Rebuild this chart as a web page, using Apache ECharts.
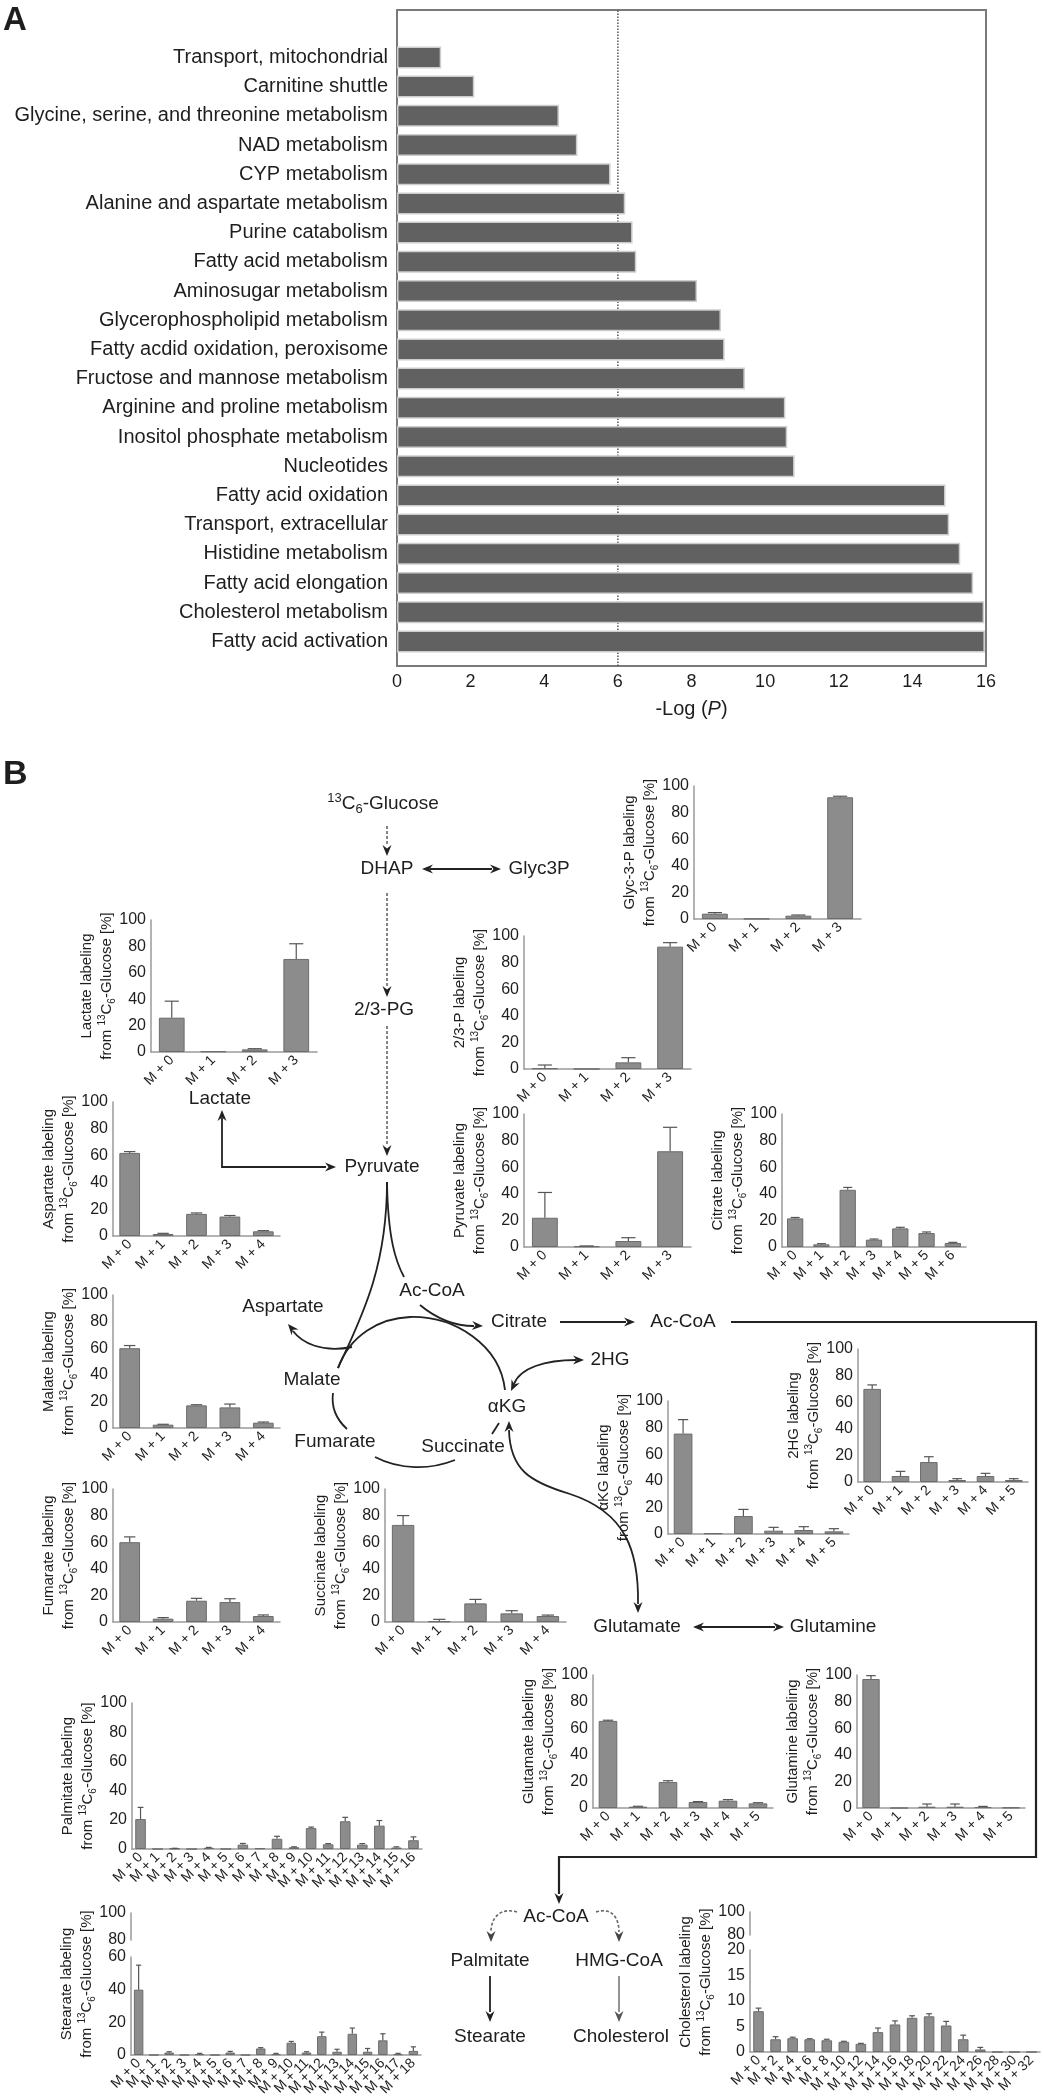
<!DOCTYPE html>
<html>
<head>
<meta charset="utf-8">
<title>Pathway enrichment and 13C6-glucose labeling</title>
<script src="https://cdn.jsdelivr.net/npm/echarts@6/dist/echarts.min.js"></script>
<style>
  html, body { margin: 0; padding: 0; background: #fff; }
  #chart { width: 1044px; height: 2100px; }
</style>
</head>
<body>
<div id="chart"></div>
<script>
// ---- Panel A: enriched pathways, -Log(P) ----
const pathwayNames = [
  'Transport, mitochondrial', 'Carnitine shuttle', 'Glycine, serine, and threonine metabolism',
  'NAD metabolism', 'CYP metabolism', 'Alanine and aspartate metabolism', 'Purine catabolism',
  'Fatty acid metabolism', 'Aminosugar metabolism', 'Glycerophospholipid metabolism',
  'Fatty acdid oxidation, peroxisome', 'Fructose and mannose metabolism',
  'Arginine and proline metabolism', 'Inositol phosphate metabolism', 'Nucleotides',
  'Fatty acid oxidation', 'Transport, extracellular', 'Histidine metabolism',
  'Fatty acid elongation', 'Cholesterol metabolism', 'Fatty acid activation'
]
const pathwayLogP = [1.2, 2.1, 4.4, 4.9, 5.8, 6.2, 6.4, 6.5, 8.15, 8.8, 8.9, 9.45,
  10.55, 10.6, 10.8, 14.9, 15.0, 15.3, 15.65, 15.95, 15.97]
const pThreshold = 6

// ---- Panel B: isotopologue tick labels ----
const iso4 = ['M + 0', 'M + 1', 'M + 2', 'M + 3']
const iso5 = ['M + 0', 'M + 1', 'M + 2', 'M + 3', 'M + 4']
const iso6 = ['M + 0', 'M + 1', 'M + 2', 'M + 3', 'M + 4', 'M + 5']
const iso7 = ['M + 0', 'M + 1', 'M + 2', 'M + 3', 'M + 4', 'M + 5', 'M + 6']
const iso17 = ['M + 0', 'M + 1', 'M + 2', 'M + 3', 'M + 4', 'M + 5', 'M + 6', 'M + 7', 'M + 8',
  'M + 9', 'M + 10', 'M + 11', 'M + 12', 'M + 13', 'M + 14', 'M + 15', 'M + 16']
const iso19 = ['M + 0', 'M + 1', 'M + 2', 'M + 3', 'M + 4', 'M + 5', 'M + 6', 'M + 7', 'M + 8',
  'M + 9', 'M + 10', 'M + 11', 'M + 12', 'M + 13', 'M + 14', 'M + 15', 'M + 16', 'M + 17', 'M + 18']
const isoEven = ['M + 0', 'M + 2', 'M + 4', 'M + 6', 'M + 8', 'M + 10', 'M + 12', 'M + 14', 'M + 16',
  'M + 18', 'M + 20', 'M + 22', 'M + 24', 'M + 26', 'M + 28', 'M + 30', 'M + 32']

// labeling from 13C6-glucose [%], mean and SD (upper whisker)
const glyc3pMean = [4, 0.2, 2.5, 91.5]
const glyc3pSd = [0.8, 0, 0.5, 0.8]
const pg23Mean = [0.5, 0, 5, 92]
const pg23Sd = [2.5, 0, 3.5, 3]
const pyruvateMean = [22, 0.5, 4.5, 72]
const pyruvateSd = [19, 0.3, 2.5, 18]
const lactateMean = [26, 0.5, 2, 70.5]
const lactateSd = [12.5, 0, 0.5, 11.5]
const citrateMean = [21.5, 2, 43, 5.5, 14, 10.5, 3]
const citrateSd = [0.7, 0.5, 1.8, 0.5, 0.8, 0.8, 0.5]
const aspartateMean = [62, 1.5, 16.5, 14.5, 3.5]
const aspartateSd = [1, 0.5, 0.7, 0.8, 0.5]
const malateMean = [60, 2.5, 17, 15.5, 4]
const malateSd = [2, 0.3, 0.5, 2.5, 0.5]
const fumarateMean = [60, 2.5, 16, 15, 4.5]
const fumarateSd = [4, 0.8, 1.8, 2.5, 0.8]
const succinateMean = [73, 0.5, 14, 6.5, 4.5]
const succinateSd = [7, 1.5, 3, 2, 0.7]
const akgMean = [75.5, 0.5, 13.5, 2.5, 3, 2]
const akgSd = [10.5, 0, 5, 2.5, 2.5, 2]
const hg2Mean = [70, 4.5, 15, 1.5, 4.5, 1.5]
const hg2Sd = [3, 3.5, 4, 1, 2, 1]
const glutamateMean = [65.5, 1, 19.5, 4.5, 5.5, 3.5]
const glutamateSd = [0.5, 0.3, 1, 0.3, 0.8, 0.5]
const glutamineMean = [97, 0, 1, 1, 0.7, 0.3]
const glutamineSd = [2.5, 0, 2, 2, 0.5, 0]
const palmitateMean = [20.5, 0, 0.3, 0, 0.8, 0, 3, 0.5, 7, 1.2, 14.3, 3.2, 19, 3, 16, 1, 6]
const palmitateSd = [8, 0, 0.2, 0, 0.3, 0, 0.8, 0, 1.7, 0.3, 0.7, 0.5, 2.7, 0.7, 3.5, 0.5, 2.3]
const stearateMean = [40, 0, 1.5, 0, 0.5, 0, 1.5, 0, 4, 0.5, 7.5, 1.5, 11.5, 2, 13, 2, 9, 0.5, 2.5]
const stearateSd = [15, 0, 0.5, 0, 0.5, 0, 0.7, 0, 0.5, 0.5, 0.8, 0.5, 2.5, 1.5, 3.5, 2, 4, 0.5, 2.5]
const cholesterolMean = [8, 2.5, 2.7, 2.5, 2.3, 2.0, 1.6, 3.9, 5.4, 6.7, 7.0, 5.2, 2.5, 0.5, 0, 0, 0]
const cholesterolSd = [0.6, 0.5, 0.2, 0.1, 0.2, 0.1, 0.1, 0.8, 0.7, 0.4, 0.5, 0.8, 0.8, 0.4, 0, 0, 0]

const FONT = '"Liberation Sans", Arial, Helvetica, sans-serif'
const INK = '#1e1e1e'
const AXIS = '#9a9a9a'

const grids = []
const xAxes = []
const yAxes = []
const series = []
const graphics = []

// upper whisker only, like the original plots
const errorBar = (params, api) => {
  const i = api.value(0)
  const m = api.value(1)
  const s = api.value(2)
  if (!(s > 0)) return null
  const lo = api.coord([i, m])
  const hi = api.coord([i, m + s])
  const half = api.size([1, 0])[0] * 0.17
  const st = { stroke: '#555', lineWidth: 1.2 }
  return {
    type: 'group',
    children: [
      { type: 'line', shape: { x1: lo[0], y1: lo[1], x2: hi[0], y2: hi[1] }, style: st },
      { type: 'line', shape: { x1: hi[0] - half, y1: hi[1], x2: hi[0] + half, y2: hi[1] }, style: st }
    ]
  }
}

// one small labeling plot
const addChart = (box, cats, mean, sd, yMin, yMax, yStep, showX = true) => {
  const gi = grids.length
  grids.push({ left: box.l, top: box.t, width: box.r - box.l, height: box.b - box.t })
  xAxes.push({
    gridIndex: gi, type: 'category', data: cats, show: showX,
    axisLine: { lineStyle: { color: AXIS, width: 1.5 } },
    axisTick: { show: false },
    axisLabel: { interval: 0, rotate: 45, fontSize: 14, color: INK, margin: 6 }
  })
  yAxes.push({
    gridIndex: gi, type: 'value', min: yMin, max: yMax, interval: yStep,
    axisLine: { show: true, lineStyle: { color: AXIS, width: 1.5 } },
    axisTick: { show: false },
    splitLine: { show: false },
    axisLabel: { fontSize: 16, color: INK, margin: 5 }
  })
  if (mean) {
    series.push({
      type: 'bar', xAxisIndex: gi, yAxisIndex: gi, data: mean, barCategoryGap: '38%',
      itemStyle: { color: '#8c8c8c', borderColor: '#6c6c6c', borderWidth: 1 }
    })
    series.push({
      type: 'custom', xAxisIndex: gi, yAxisIndex: gi, renderItem: errorBar, z: 3,
      encode: { x: 0, y: 1 },
      data: mean.map((m, i) => [i, m, sd[i]])
    })
  }
}

// rich styles for the 13C6 super/subscripts
const richFor = (size, lh) => ({
  a: { fontSize: size, lineHeight: lh, fontFamily: FONT, fill: INK, color: INK },
  sup: { fontSize: Math.round(size * 0.68), lineHeight: Math.round(size * 0.8), verticalAlign: 'top', fontFamily: FONT, fill: INK, color: INK },
  sub: { fontSize: Math.round(size * 0.68), lineHeight: Math.round(size * 0.8), verticalAlign: 'bottom', fontFamily: FONT, fill: INK, color: INK }
})
const GLUCOSE = '{sup|13}{a|C}{sub|6}{a|-Glucose}'

// rotated two-line y label
const yName = (name, axisX, top, bottom) => {
  graphics.push({
    type: 'text', x: axisX - 54, y: (top + bottom) / 2, rotation: Math.PI / 2,
    style: {
      text: '{a|' + name + ' labeling}\n{a|from }' + GLUCOSE + '{a| [%]}',
      rich: richFor(15, 20), fontSize: 15, fontFamily: FONT, fill: INK,
      align: 'center', verticalAlign: 'middle'
    }
  })
}

const plot = (name, box, cats, mean, sd) => {
  addChart(box, cats, mean, sd, 0, 100, 20)
  yName(name, box.l, box.t, box.b)
}

// ---- Panel A grids ----
grids.push({ left: 397, top: 10, width: 589, height: 656, show: true, borderColor: '#7a7a7a', borderWidth: 2 })
xAxes.push({
  gridIndex: 0, type: 'value', min: 0, max: 16, interval: 2,
  axisLine: { show: false }, axisTick: { show: false }, splitLine: { show: false },
  axisLabel: { fontSize: 18, color: INK, margin: 7 },
  name: '-Log ({i|P})', nameLocation: 'middle', nameGap: 33,
  nameTextStyle: { fontSize: 20, color: INK, rich: { i: { fontStyle: 'italic', fontSize: 20, color: INK } } }
})
yAxes.push({ gridIndex: 0, type: 'value', min: 0, max: 1, show: false })
series.push({
  type: 'line', xAxisIndex: 0, yAxisIndex: 0, data: [[pThreshold, 0], [pThreshold, 1]],
  symbol: 'none', z: 1, lineStyle: { type: 'dotted', color: '#555', width: 1.5 }
})

grids.push({ left: 397, top: 42.8, width: 589, height: 613.2 })
xAxes.push({ gridIndex: 1, type: 'value', min: 0, max: 16, show: false })
yAxes.push({
  gridIndex: 1, type: 'category', data: pathwayNames, inverse: true,
  axisLine: { show: false }, axisTick: { show: false },
  axisLabel: { fontSize: 20, color: INK, margin: 9 }
})
series.push({
  type: 'bar', xAxisIndex: 1, yAxisIndex: 1, data: pathwayLogP, barWidth: 22, z: 3,
  itemStyle: { color: '#616161', borderColor: '#cdcdcd', borderWidth: 1.5 }
})

// ---- Panel B plots ----
plot('Glyc-3-P', { l: 694, r: 861, t: 786, b: 919 }, iso4, glyc3pMean, glyc3pSd)
plot('2/3-P', { l: 524, r: 691, t: 936, b: 1069 }, iso4, pg23Mean, pg23Sd)
plot('Pyruvate', { l: 524, r: 691, t: 1114, b: 1247 }, iso4, pyruvateMean, pyruvateSd)
plot('Citrate', { l: 782, r: 966, t: 1114, b: 1247 }, iso7, citrateMean, citrateSd)
plot('Lactate', { l: 151, r: 317, t: 920, b: 1052 }, iso4, lactateMean, lactateSd)
plot('Aspartate', { l: 113, r: 280, t: 1102, b: 1236 }, iso5, aspartateMean, aspartateSd)
plot('Malate', { l: 113, r: 280, t: 1295, b: 1428 }, iso5, malateMean, malateSd)
plot('Fumarate', { l: 113, r: 280, t: 1489, b: 1622 }, iso5, fumarateMean, fumarateSd)
plot('Succinate', { l: 385, r: 566, t: 1489, b: 1622 }, iso5, succinateMean, succinateSd)
plot('\u03b1KG', { l: 668, r: 849, t: 1401, b: 1534 }, iso6, akgMean, akgSd)
plot('2HG', { l: 858, r: 1028, t: 1349, b: 1482 }, iso6, hg2Mean, hg2Sd)
plot('Glutamate', { l: 593, r: 773, t: 1675, b: 1808 }, iso6, glutamateMean, glutamateSd)
plot('Glutamine', { l: 857, r: 1025, t: 1675, b: 1808 }, iso6, glutamineMean, glutamineSd)
plot('Palmitate', { l: 132, r: 422, t: 1703, b: 1849 }, iso17, palmitateMean, palmitateSd)

// broken y axes: lower segment with bars, upper 80-100 stub
addChart({ l: 131, r: 421, t: 1957, b: 2055 }, iso19, stearateMean, stearateSd, 0, 60, 20)
addChart({ l: 131, r: 421, t: 1913, b: 1940 }, iso19, null, null, 80, 100, 20, false)
yName('Stearate', 131, 1913, 2055)
addChart({ l: 750, r: 1040, t: 1950, b: 2052 }, isoEven, cholesterolMean, cholesterolSd, 0, 20, 5)
addChart({ l: 750, r: 1040, t: 1912, b: 1935 }, isoEven, null, null, 80, 100, 20, false)
yName('Cholesterol', 750, 1912, 2052)

// ---- pathway drawing ----
const SOLID = { stroke: '#222', lineWidth: 1.8, fill: null }
const DASH = { stroke: '#666', lineWidth: 1.6, lineDash: [3, 2], fill: null }

const text = (t, x, y, size = 19, bold = false, align = 'center') => graphics.push({
  type: 'text', x, y,
  style: { text: t, fontSize: size, fontFamily: FONT, fontWeight: bold ? 'bold' : 'normal', fill: INK, align, verticalAlign: 'middle' }
})
const line = (x1, y1, x2, y2, st = SOLID) => graphics.push({ type: 'line', shape: { x1, y1, x2, y2 }, style: st })
const curve = (p0, c1, c2, p1, st = SOLID) => graphics.push({
  type: 'bezierCurve',
  shape: { x1: p0[0], y1: p0[1], cpx1: c1[0], cpy1: c1[1], cpx2: c2[0], cpy2: c2[1], x2: p1[0], y2: p1[1] },
  style: st
})
const poly = (pts, st = SOLID) => graphics.push({ type: 'polyline', shape: { points: pts }, style: st })
// arrow head, deg = pointing direction (0 right, 90 down)
const head = (x, y, deg, color = '#222') => {
  const a = deg * Math.PI / 180
  const c = Math.cos(a)
  const s = Math.sin(a)
  const L = 11
  const W = 4.5
  const bx = x - L * c
  const by = y - L * s
  graphics.push({
    type: 'polygon',
    shape: { points: [[x, y], [bx - W * s, by + W * c], [x - (L - 3.5) * c, y - (L - 3.5) * s], [bx + W * s, by - W * c]] },
    style: { fill: color }
  })
}

text('A', 3, 21, 33, true, 'left')
text('B', 3, 775, 34, true, 'left')

graphics.push({
  type: 'text', x: 383, y: 804,
  style: { text: GLUCOSE, rich: richFor(19, 24), fontSize: 19, fontFamily: FONT, fill: INK, align: 'center', verticalAlign: 'middle' }
})
text('DHAP', 387, 869)
text('Glyc3P', 539, 869)
text('2/3-PG', 384, 1010)
text('Pyruvate', 382, 1167)
text('Lactate', 220, 1099)
text('Ac-CoA', 432, 1291)
text('Aspartate', 283, 1307)
text('Citrate', 519, 1322)
text('Ac-CoA', 683, 1322)
text('2HG', 610, 1360)
text('Malate', 312, 1380)
text('\u03b1KG', 507, 1407)
text('Fumarate', 335, 1442)
text('Succinate', 463, 1447)
text('Glutamate', 637, 1627)
text('Glutamine', 833, 1627)
text('Ac-CoA', 556, 1917)
text('Palmitate', 490, 1961)
text('HMG-CoA', 619, 1961)
text('Stearate', 490, 2037)
text('Cholesterol', 621, 2037)

// glycolysis
line(387, 826, 387, 846, DASH); head(387, 856, 90)
line(387, 893, 387, 987, DASH); head(387, 997, 90)
line(387, 1026, 387, 1146, DASH); head(387, 1156, 90)
line(430, 869, 492, 869); head(422, 869, 180); head(501, 869, 0)
poly([[222, 1118], [222, 1167], [326, 1167]]); head(222, 1110, -90); head(336, 1167, 0)

// pyruvate split into the cycle
curve([387, 1182], [387, 1270], [360, 1320], [338, 1368])
curve([387, 1182], [388, 1240], [396, 1262], [404, 1277])
curve([420, 1305], [438, 1320], [458, 1326], [474, 1326]); head(483, 1326, 3)

// TCA cycle
curve([338, 1368], [350, 1335], [380, 1318], [410, 1317])
curve([410, 1317], [455, 1316], [500, 1345], [505, 1390])
curve([352, 1347], [322, 1353], [302, 1343], [293, 1331]); head(288, 1324, -130)
curve([333, 1393], [331, 1408], [337, 1420], [347, 1429])
curve([375, 1457], [400, 1470], [430, 1470], [455, 1460])
line(492, 1434, 499, 1423)
curve([514, 1384], [520, 1368], [545, 1360], [576, 1360]); head(511, 1391, 115); head(584, 1360, 0)
curve([509, 1430], [510, 1470], [530, 1482], [570, 1494])
curve([570, 1494], [625, 1512], [639, 1550], [638, 1604])
head(509, 1421, -90); head(638, 1613, 90)
line(560, 1322, 626, 1322); head(635, 1322, 0)
line(695, 1627, 775, 1627); head(693, 1627, 180); head(784, 1627, 0)

// cytosolic Ac-CoA to lipids
poly([[731, 1322], [1036, 1322], [1036, 1857], [559, 1857], [559, 1894]], { stroke: '#222', lineWidth: 2.2, fill: null })
head(559, 1904, 90)
curve([517, 1912], [500, 1907], [491, 1918], [491, 1932], DASH); head(491, 1942, 90, '#444')
curve([596, 1912], [612, 1907], [619, 1918], [619, 1932], DASH); head(619, 1942, 90, '#444')
line(490, 1976, 490, 2012); head(490, 2022, 90)
line(619, 1976, 619, 2012, { stroke: '#666', lineWidth: 1.4 }); head(619, 2022, 90, '#555')

const chart = echarts.init(document.getElementById('chart'), null, { renderer: 'canvas' })
chart.setOption({
  animation: false,
  backgroundColor: '#fff',
  textStyle: { fontFamily: FONT, color: INK },
  grid: grids,
  xAxis: xAxes,
  yAxis: yAxes,
  series: series,
  graphic: { elements: graphics }
})
</script>
</body>
</html>
